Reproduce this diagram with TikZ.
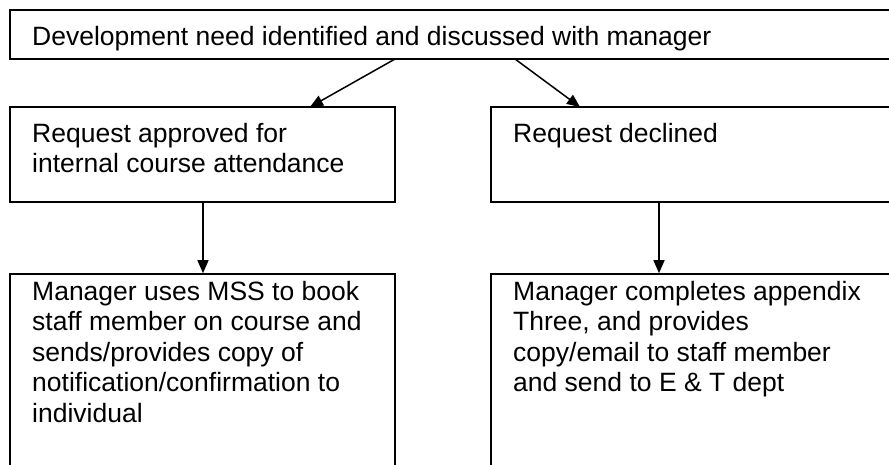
\documentclass[tikz,border=0pt]{standalone}
\usepackage{fontspec}
\setmainfont{Liberation Sans}
\usetikzlibrary{arrows.meta}
\begin{document}
\begin{tikzpicture}[x=1pt,y=-1pt,
  box/.style={draw=black, line width=1.6pt, rectangle, inner sep=0pt},
  txt/.style={inner sep=0pt, anchor=north west, align=left, font=\fontsize{26.5}{30.4}\selectfont},
  conn/.style={draw=black, line width=1.5pt, -{Triangle[length=13pt,width=11pt]}}]
\useasboundingbox (0,0) rectangle (889,464);
% boxes
\node[box, minimum width=890pt, minimum height=49pt] (top) at (455,34.5) {};
\node[box, minimum width=385pt, minimum height=95pt] (appr) at (202.5,154.5) {};
\node[box, minimum width=409pt, minimum height=95pt] (decl) at (695.5,154.5) {};
\node[box, minimum width=385pt, minimum height=196pt] (mss) at (202.5,372) {};
\node[box, minimum width=409pt, minimum height=196pt] (app3) at (695.5,372) {};
% texts
\node[txt] (t1) at (32,26) {Development need identified and discussed with manager};
\node[txt] (t2) at (32,123) {Request approved for\\internal course attendance};
\node[txt] (t3) at (513,123) {Request declined};
\node[txt] (t4) at (32,281) {Manager uses MSS to book\\staff member on course and\\sends/provides copy of\\notification/confirmation to\\individual};
\node[txt] (t5) at (513,281) {Manager completes appendix\\Three, and provides\\copy/email to staff member\\and send to E \& T dept};
% connector end points
\coordinate (s1) at (395,59);
\coordinate (e1) at (310,107);
\coordinate (s2) at (515,59);
\coordinate (e2) at (580,107);
\draw[conn] (s1) -- (e1);
\draw[conn] (s2) -- (e2);
\draw[conn] (appr.south -| 203,0) -- (mss.north -| 203,0);
\draw[conn] (decl.south -| 659,0) -- (app3.north -| 659,0);
\end{tikzpicture}
\end{document}
